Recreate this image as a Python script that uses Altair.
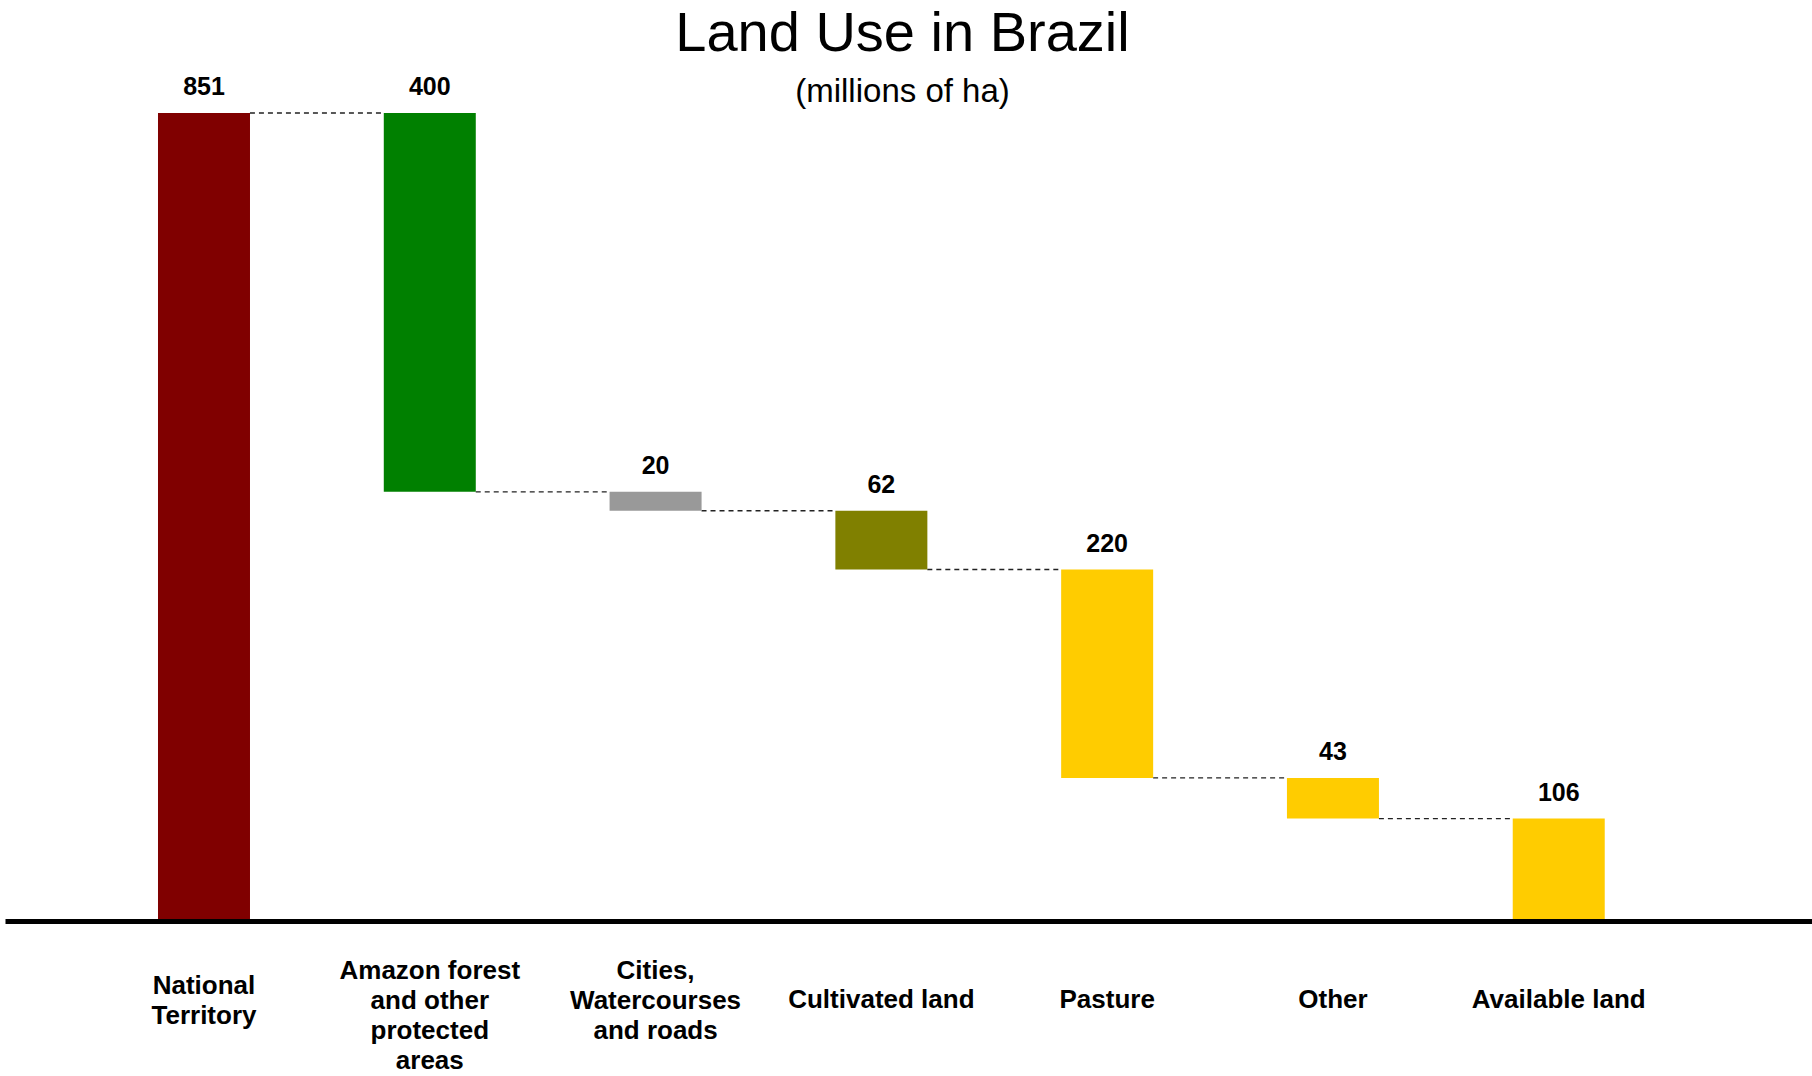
import altair as alt
import pandas as pd

categories = ["National|Territory", "Amazon forest|and other|protected|areas",
              "Cities,|Watercourses|and roads", "Cultivated land", "Pasture",
              "Other", "Available land"]
values = [851, 400, 20, 62, 220, 43, 106]
kinds = ["total", "decrease", "decrease", "decrease", "decrease", "decrease", "total"]
colors = ["#800000", "#008000", "#999999", "#808000", "#FFCC00", "#FFCC00", "#FFCC00"]

rows = []
running = 0
for cat, val, kind, col in zip(categories, values, kinds, colors):
    if kind == "total":
        start, end = 0, val
    else:
        start, end = running, running - val
    running = end
    rows.append({"cat": cat, "value": val, "start": start, "end": end,
                 "top": max(start, end), "color": col, "level": end})
df = pd.DataFrame(rows)

conn = pd.DataFrame([
    {"cat": rows[i]["cat"], "next": rows[i + 1]["cat"], "level": rows[i]["level"]}
    for i in range(len(rows) - 1)
])

LABEL_FONT = "Liberation Sans, Arial, Helvetica, sans-serif"
TITLE_FONT = "Liberation Sans, Arial, Helvetica, sans-serif"

xscale = alt.Scale(domain=categories, paddingInner=0.593, paddingOuter=0.798, align=0.4247)
yscale = alt.Scale(domain=[0, 851], nice=False, zero=True)
xaxis = alt.Axis(title=None, domain=True, domainColor="black", domainWidth=5, ticks=False,
                 labelFont=LABEL_FONT, labelFontSize=26, labelFontWeight="bold",
                 labelColor="black", labelAngle=0, labelBaseline="middle",
                 labelPadding={
                     "condition": [
                         {"test": "indexof(datum.value, '|') < 0", "value": 78},
                         {"test": "length(split(datum.value, '|')) >= 3", "value": 49},
                     ],
                     "value": 64,
                 },
                 labelLineHeight=30, labelLimit=400,
                 labelOverlap=False, offset=2,
                 labelExpr="split(datum.label, '|')")

xenc = alt.X("cat:N", sort=categories, scale=xscale, axis=xaxis)

rules = alt.Chart(conn).mark_rule(color="#222222", strokeWidth=1.4, strokeDash=[5, 4]).encode(
    x=alt.X("cat:N", sort=categories, scale=xscale, axis=xaxis, bandPosition=1),
    x2=alt.X2("next:N", bandPosition=0),
    y=alt.Y("level:Q", scale=yscale, axis=None),
)

bars = alt.Chart(df).mark_bar(size=92).encode(
    x=xenc,
    y=alt.Y("start:Q", scale=yscale, axis=None),
    y2="end:Q",
    color=alt.Color("color:N", scale=None, legend=None),
)

texts = alt.Chart(df).mark_text(font=LABEL_FONT, fontSize=25, fontWeight="bold",
                                color="black", baseline="alphabetic", dy=-18).encode(
    x=xenc,
    y=alt.Y("top:Q", scale=yscale, axis=None),
    text="value:Q",
)

chart = alt.layer(rules, bars, texts).properties(
    width=1807,
    height=806,
    autosize=alt.AutoSizeParams(type="none"),
    padding={"left": 5, "right": 0, "top": 113, "bottom": 157},
    title=alt.TitleParams(
        "Land Use in Brazil",
        subtitle="(millions of ha)",
        anchor="middle",
        font=TITLE_FONT,
        fontSize=56,
        fontWeight="normal",
        color="black",
        subtitleFont=TITLE_FONT,
        subtitleFontSize=33,
        subtitleColor="black",
        subtitlePadding=13,
        offset=-35,
        dx=-6,
    ),
).configure(background="white").configure_view(stroke=None)

chart.save("out.html", embed_options={"renderer": "svg", "actions": False})
